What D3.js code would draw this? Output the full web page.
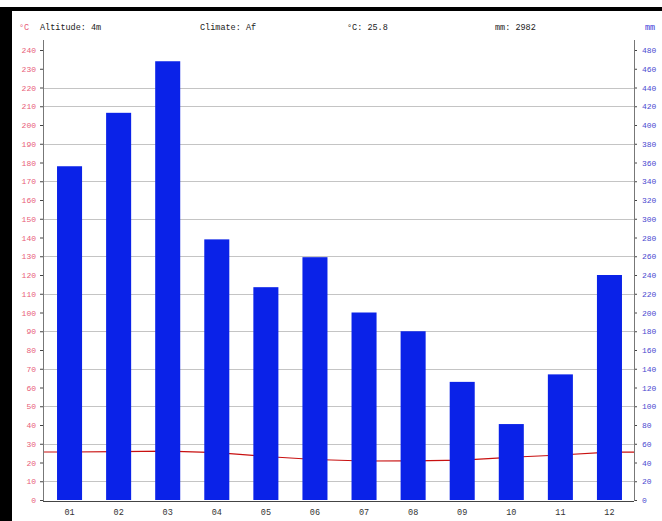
<!DOCTYPE html>
<html>
<head>
<meta charset="utf-8">
<script src="https://cdn.jsdelivr.net/npm/d3@7"></script>
<style>
  html, body { margin: 0; padding: 0; background: #fff; }
  svg { display: block; }
  text { font-family: "Liberation Mono", "DejaVu Sans Mono", monospace; }
</style>
</head>
<body>
<svg id="chart" width="662" height="521"></svg>
<script>
// Monthly climate data
const months = ["01", "02", "03", "04", "05", "06", "07", "08", "09", "10", "11", "12"];
const precipitation = [356, 413, 468, 278, 227, 259, 200, 180, 126, 81, 134, 240]; // mm
const temperature = [25.6, 25.8, 26.1, 25.3, 23.2, 21.6, 20.8, 20.9, 21.3, 22.8, 24.0, 25.5]; // °C
const tempTicks = d3.range(0, 241, 10);
const precipTicks = d3.range(0, 481, 20);
const gridValues = [20, 60, 100, 140, 180, 220, 260, 300, 340, 380, 420, 440];
const headerItems = [
  { text: "Altitude: 4m", x: 40 },
  { text: "Climate: Af", x: 200 },
  { text: "°C: 25.8", x: 347 },
  { text: "mm: 2982", x: 495 }
];

const svg = d3.select("#chart");
const plotLeft = 43, plotRight = 634, plotTop = 40, plotBottom = 501;

const x = d3.scaleBand().domain(months).range([45, 634]).paddingInner(0.49).paddingOuter(0.245);
const yMm = d3.scaleLinear().domain([0, 480]).range([500, 50]);
const yT = d3.scaleLinear().domain([0, 240]).range([500, 50]);

// outer dark frame
svg.append("rect").attr("x", 0).attr("y", 7).attr("width", 662).attr("height", 4).attr("fill", "#000");
svg.append("rect").attr("x", 0).attr("y", 7).attr("width", 12).attr("height", 514).attr("fill", "#000");

// header
svg.append("text").attr("x", 19).attr("y", 30).attr("font-size", 8.5).attr("fill", "#e8607a").text("°C");
svg.append("text").attr("x", 645).attr("y", 30).attr("font-size", 8.5).attr("fill", "#3a3ad8").text("mm");
svg.selectAll("text.hdr").data(headerItems).join("text")
  .attr("class", "hdr")
  .attr("x", d => d.x).attr("y", 30)
  .attr("font-size", 8.5).attr("fill", "#222")
  .text(d => d.text);

// horizontal grid
svg.append("g").selectAll("line").data(gridValues).join("line")
  .attr("x1", plotLeft).attr("x2", plotRight)
  .attr("y1", d => Math.round(yMm(d)) + 0.5).attr("y2", d => Math.round(yMm(d)) + 0.5)
  .attr("stroke", "#c4c4c4").attr("stroke-width", 1);

// temperature line, carried to both plot edges
const tempPts = [[plotLeft, temperature[0]]]
  .concat(months.map((m, i) => [x(m) + x.bandwidth() / 2, temperature[i]]))
  .concat([[plotRight, temperature[temperature.length - 1]]]);
svg.append("path")
  .datum(tempPts)
  .attr("fill", "none").attr("stroke", "#c81010").attr("stroke-width", 1.2)
  .attr("d", d3.line().x(d => d[0]).y(d => yT(d[1])));

// precipitation bars
svg.append("g").selectAll("rect").data(months).join("rect")
  .attr("x", d => x(d))
  .attr("width", x.bandwidth())
  .attr("y", (d, i) => yMm(precipitation[i]))
  .attr("height", (d, i) => yMm(0) - yMm(precipitation[i]))
  .attr("fill", "#0a22e8");

// left temperature axis
const axL = svg.append("g").attr("transform", `translate(${plotLeft},0)`)
  .call(d3.axisLeft(yT).tickValues(tempTicks).tickSize(3).tickSizeOuter(0).tickPadding(4));
axL.select(".domain").remove();
axL.selectAll(".tick line").attr("stroke", "#444");
axL.selectAll(".tick text").attr("font-family", "Liberation Mono, monospace").attr("font-size", 8).attr("fill", "#e8607a");

// right precipitation axis
const axR = svg.append("g").attr("transform", `translate(${plotRight},0)`)
  .call(d3.axisRight(yMm).tickValues(precipTicks).tickSize(3).tickSizeOuter(0).tickPadding(5));
axR.select(".domain").remove();
axR.selectAll(".tick line").attr("stroke", "#444");
axR.selectAll(".tick text").attr("font-family", "Liberation Mono, monospace").attr("font-size", 8).attr("fill", "#4a4ad0");

// axis lines
svg.append("line").attr("x1", plotLeft + 0.5).attr("x2", plotLeft + 0.5).attr("y1", plotTop).attr("y2", plotBottom).attr("stroke", "#777");
svg.append("line").attr("x1", plotRight + 0.5).attr("x2", plotRight + 0.5).attr("y1", plotTop).attr("y2", plotBottom).attr("stroke", "#777");

// month axis
const axB = svg.append("g").attr("transform", `translate(0,${plotBottom})`)
  .call(d3.axisBottom(x).tickSize(0).tickPadding(8));
axB.select(".domain").attr("d", `M${plotLeft},0.5H${plotRight}`).attr("stroke", "#444");
axB.selectAll(".tick text").attr("font-family", "Liberation Mono, monospace").attr("font-size", 8.5).attr("fill", "#333");
</script>
</body>
</html>
